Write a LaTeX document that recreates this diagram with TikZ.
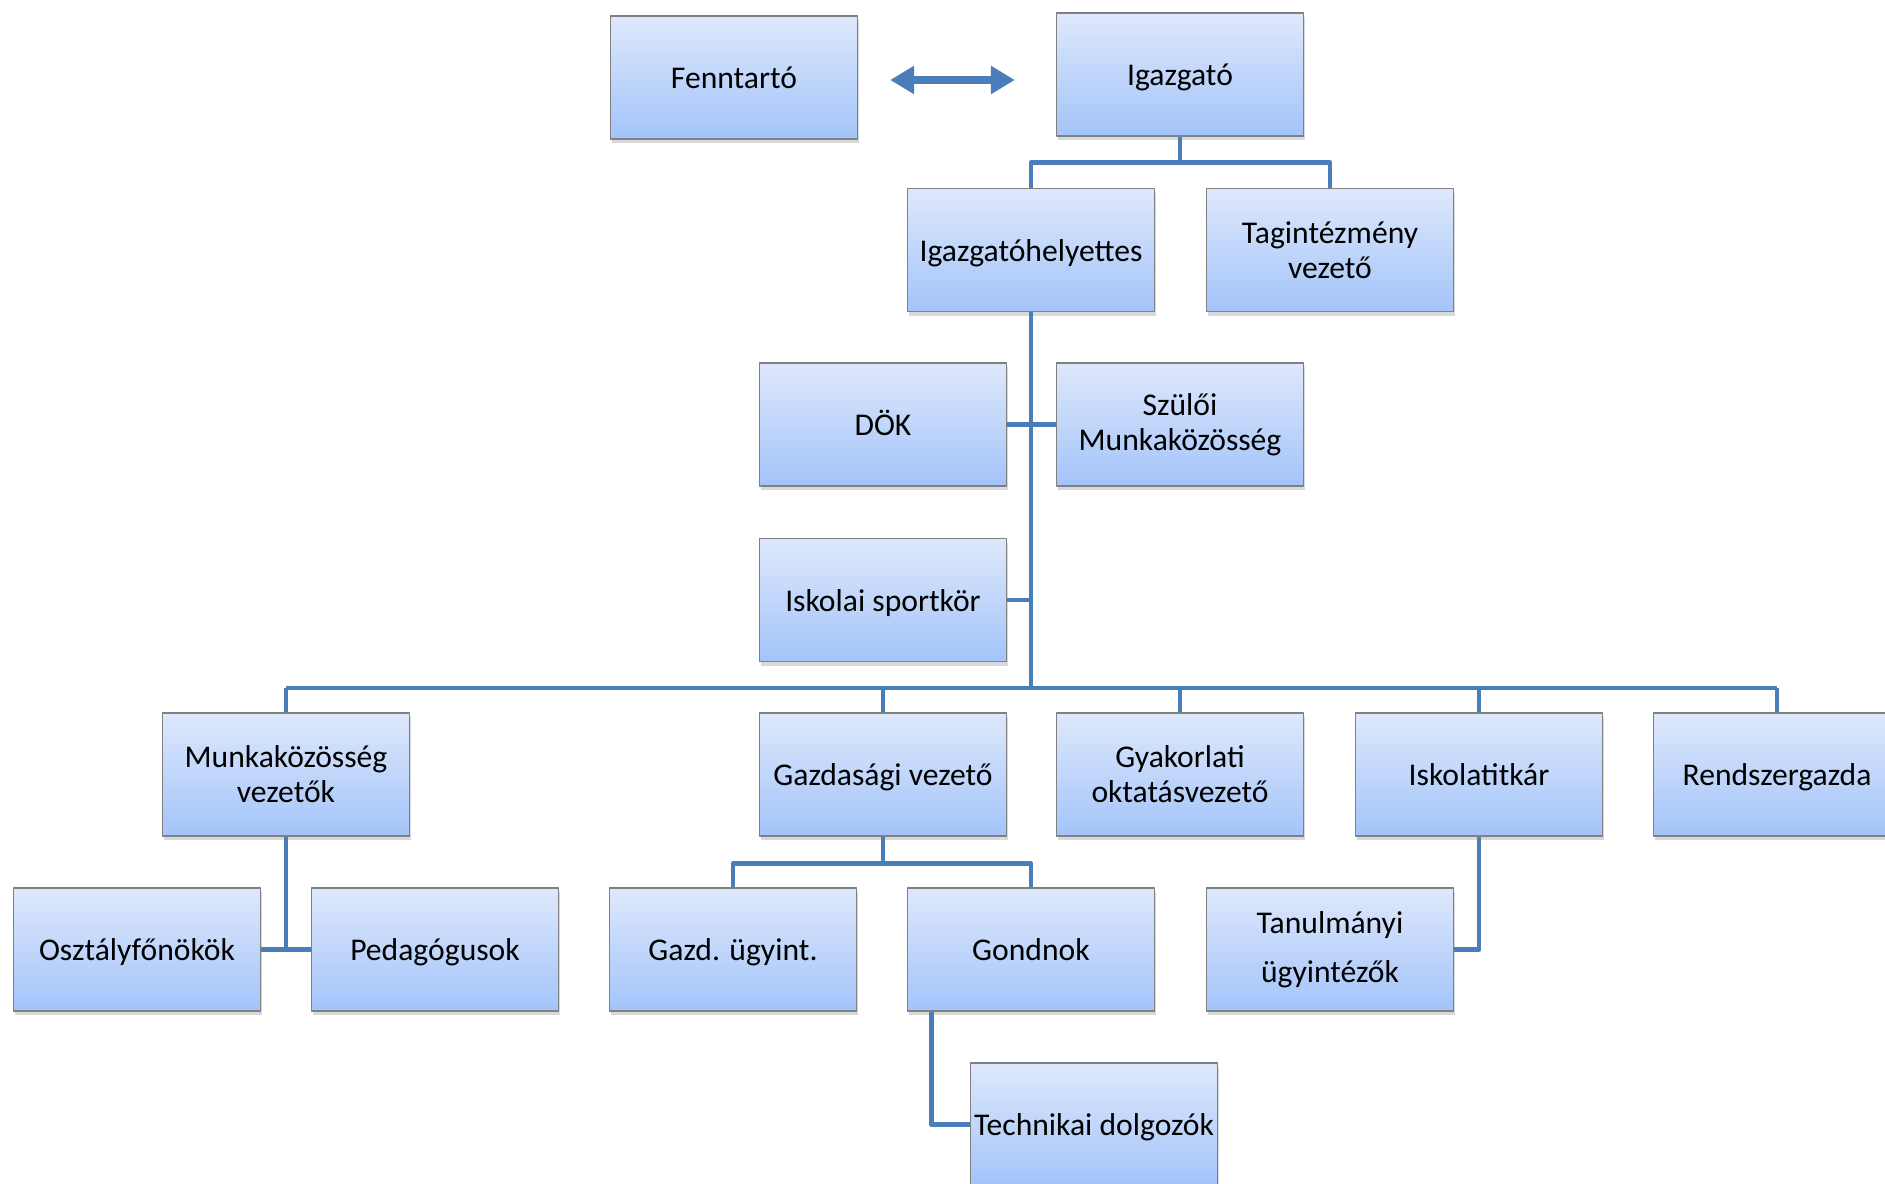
\documentclass[tikz,border=0pt]{standalone}
\usepackage{fontspec}
\setmainfont{Carlito}
\usetikzlibrary{arrows.meta,shadows}
\definecolor{keret}{RGB}{74,126,187}
\definecolor{felso}{RGB}{222,232,251}
\definecolor{also}{RGB}{163,196,250}
\begin{document}
\begin{tikzpicture}[x=1cm,y=1cm,font=\fontsize{9}{9.9}\selectfont, line join=round,
	doboz/.style={draw=black!50, line width=0.4pt, minimum width=2.47cm, minimum height=1.23cm, inner sep=0pt, align=center,
		top color=felso, bottom color=also, drop shadow={shadow xshift=0.4pt, shadow yshift=-1.2pt, opacity=0.3}},
	egysor/.style={doboz, text height=6.4pt, text depth=0pt},
	vonal/.style={draw=keret, line width=1.4pt}]
	\useasboundingbox (0,0) rectangle (18.85,-11.84);
	% dobozok
	\node[egysor] (fenn) at (7.34,-0.775) {Fenntartó};
	\node[egysor] (igaz) at (11.80,-0.745) {Igazgató};
	\node[egysor] (helyettes) at (10.31,-2.50) {Igazgatóhelyettes};
	\node[doboz] (tag) at (13.30,-2.50) {Tagintézmény\\vezető};
	\node[egysor] (dok) at (8.83,-4.245) {DÖK};
	\node[doboz] (szuloi) at (11.80,-4.245) {Szülői\\Munkaközösség};
	\node[egysor] (sport) at (8.83,-6.00) {Iskolai sportkör};
	\node[doboz] (munka) at (2.86,-7.745) {Munkaközösség\\vezetők};
	\node[egysor] (gazd) at (8.83,-7.745) {Gazdasági vezető};
	\node[doboz] (gyak) at (11.80,-7.745) {Gyakorlati\\oktatásvezető};
	\node[egysor] (titkar) at (14.79,-7.745) {Iskolatitkár};
	\node[egysor] (rendszer) at (17.77,-7.745) {Rendszergazda};
	\node[egysor] (osztaly) at (1.37,-9.495) {Osztályfőnökök};
	\node[egysor] (pedag) at (4.35,-9.495) {Pedagógusok};
	\node[egysor] (ugyint) at (7.33,-9.495) {Gazd. ügyint.};
	\node[egysor] (gondnok) at (10.31,-9.495) {Gondnok};
	\node[doboz] (tanulm) at (13.30,-9.495) {Tanulmányi\\[4.1pt]ügyintézők};
	\node[egysor] (tech) at (10.94,-11.245) {Technikai dolgozók};
	% kapcsolatok
	\draw[keret, line width=2pt, {Triangle[length=0.24cm,width=0.27cm]}-{Triangle[length=0.24cm,width=0.27cm]},
		shorten <=0.32cm, shorten >=0.41cm] (fenn.east |- 0,-0.80) -- (igaz.west |- 0,-0.80);
	\draw[vonal] (igaz.south) -- ++(0,-0.26) coordinate (elag1) -| (helyettes.north);
	\draw[vonal] (elag1) -| (tag.north);
	\coordinate (bus) at (helyettes.south |- 0,-6.88);
	\draw[vonal] (helyettes.south) -- (bus);
	\draw[vonal] (dok.east) -- (szuloi.west);
	\draw[vonal] (sport.east) -- (sport.east -| bus);
	\draw[vonal] (munka.north |- bus) -- (rendszer.north |- bus);
	\foreach \n in {munka,gazd,gyak,titkar,rendszer}
		\draw[vonal] (bus -| \n.north) -- (\n.north);
	\draw[vonal] (munka.south) -- (munka.south |- osztaly.east);
	\draw[vonal] (osztaly.east) -- (pedag.west);
	\draw[vonal] (gazd.south) -- ++(0,-0.27) coordinate (elag2) -| (ugyint.north);
	\draw[vonal] (elag2) -| (gondnok.north);
	\draw[vonal] ([xshift=0.25cm]gondnok.south west) |- (tech.west);
	\draw[vonal] (titkar.south) |- (tanulm.east);
\end{tikzpicture}
\end{document}
